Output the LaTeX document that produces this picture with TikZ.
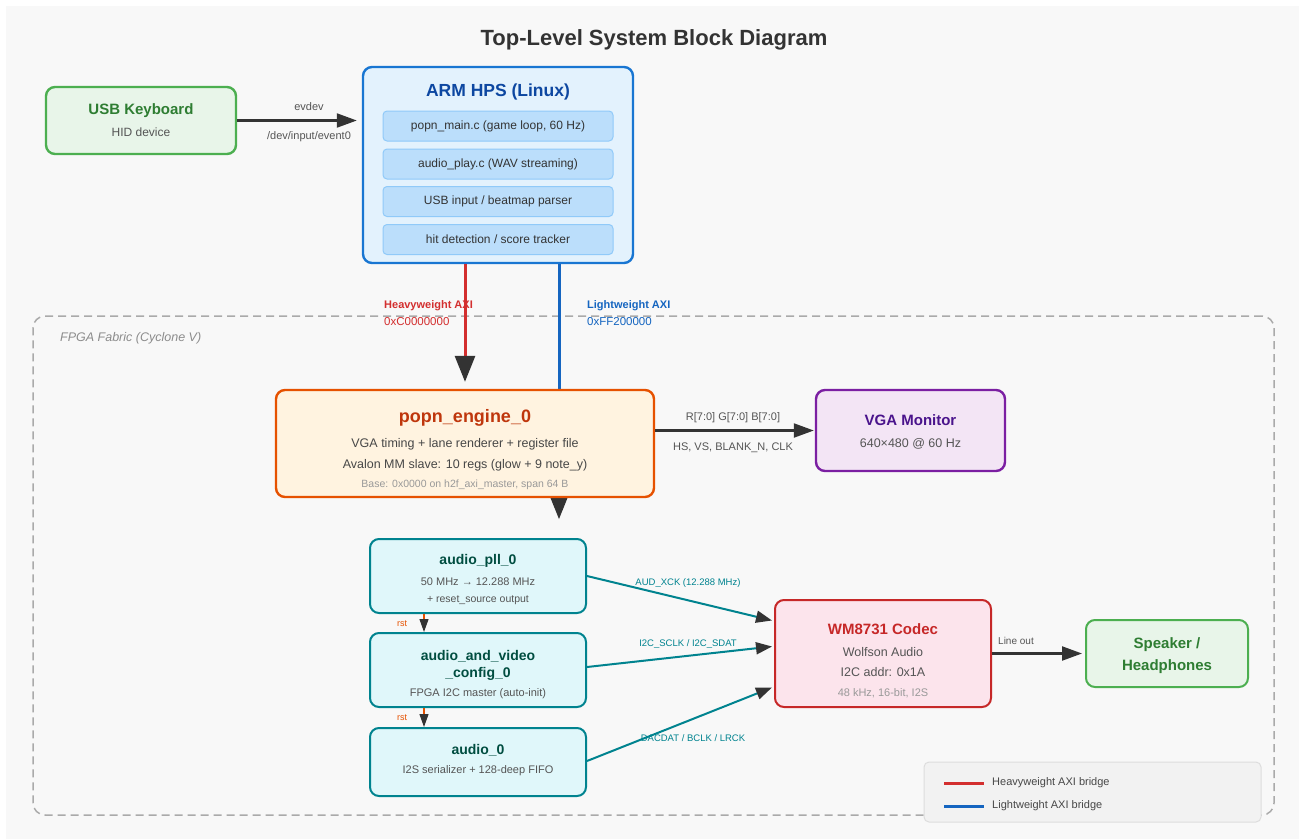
\documentclass[tikz,border=0pt]{standalone}
\usepackage{fontspec}
\setmainfont{Liberation Sans}
\usetikzlibrary{arrows.meta,calc}

\definecolor{bgcol}{HTML}{F8F8F8}
\definecolor{ink}{HTML}{333333}
\definecolor{txtgray}{HTML}{555555}
\definecolor{lightgray}{HTML}{999999}
\definecolor{kbdF}{HTML}{E8F5E9}
\definecolor{kbdB}{HTML}{4CAF50}
\definecolor{kbdT}{HTML}{2E7D32}
\definecolor{hpsF}{HTML}{E3F2FD}
\definecolor{hpsB}{HTML}{1976D2}
\definecolor{hpsT}{HTML}{0D47A1}
\definecolor{subF}{HTML}{BBDEFB}
\definecolor{subB}{HTML}{90CAF9}
\definecolor{engF}{HTML}{FFF3E0}
\definecolor{engB}{HTML}{E65100}
\definecolor{engT}{HTML}{BF360C}
\definecolor{vgaF}{HTML}{F3E5F5}
\definecolor{vgaB}{HTML}{7B1FA2}
\definecolor{vgaT}{HTML}{4A148C}
\definecolor{audF}{HTML}{E0F7FA}
\definecolor{audB}{HTML}{00838F}
\definecolor{audT}{HTML}{004D40}
\definecolor{codF}{HTML}{FCE4EC}
\definecolor{codB}{HTML}{C62828}
\definecolor{hwred}{HTML}{D32F2F}
\definecolor{lwblue}{HTML}{1565C0}
\definecolor{framegray}{HTML}{AAAAAA}
\definecolor{legF}{HTML}{F2F2F2}
\definecolor{legB}{HTML}{DDDDDD}

\tikzset{
  box/.style={draw, rounded corners=9pt, inner sep=0pt, line width=2.4pt},
  subbox/.style={draw=subB, fill=subF, rounded corners=4pt, inner sep=0pt, line width=1pt,
    minimum width=230pt, minimum height=30pt, text=ink, font=\fontsize{12}{12}\selectfont},
  lbl/.style 2 args={inner sep=0pt, text=#2, font=\fontsize{#1}{#1}\selectfont},
  blbl/.style 2 args={inner sep=0pt, text=#2, font=\bfseries\fontsize{#1}{#1}\selectfont},
  bigarrow/.style={draw=ink, line width=2.2pt, -{Triangle[length=20pt,width=14pt,color=ink]}},
  bridge/.style={line width=3pt, -{Triangle[length=26pt,width=20pt,color=ink]}},
  sigarrow/.style={draw=audB, line width=2pt, -{Triangle[length=16pt,width=12pt,color=ink]}},
  rstarrow/.style={draw=engB, line width=1.2pt, -{Triangle[length=13pt,width=9pt,color=ink]}},
}

\begin{document}
\begin{tikzpicture}[x=1pt,y=-1pt]
% canvas
\useasboundingbox (0,0) rectangle (1299,839);
\fill[white] (0,0) rectangle (1299,839);
\fill[bgcol] (6,6) rectangle (1299,839);

\node[blbl={22}{ink}] (title) at (654,40) {Top-Level System Block Diagram};

% FPGA fabric region
\node[draw=framegray, line width=1.5pt, dash pattern=on 8pt off 5pt, rounded corners=12pt,
      minimum width=1241pt, minimum height=499pt, inner sep=0pt] (fpga) at (653.5,565.5) {};
\node[lbl={12.5}{gray!90}, font=\itshape\fontsize{12.5}{12.5}\selectfont, anchor=west] (fpgalbl) at (60,338) {FPGA Fabric (Cyclone V)};

% bridge columns
\coordinate (hwx) at (465,0);
\coordinate (lwx) at (559,0);
\coordinate (rstx) at (424,0);

% ---------- boxes ----------
\node[box, draw=kbdB, fill=kbdF, minimum width=190pt, minimum height=67pt] (kbd) at (141,120.5) {};
\node[box, draw=hpsB, fill=hpsF, minimum width=270pt, minimum height=196pt] (hps) at (498,165) {};

% lightweight bridge runs behind the engine box
\draw[bridge, draw=lwblue] (hps.south -| lwx) -- ($(hps.south -| lwx)+(0,255)$);

\node[box, draw=engB, fill=engF, minimum width=378pt, minimum height=107pt] (popn) at (465,443.5) {};
\node[box, draw=vgaB, fill=vgaF, minimum width=189pt, minimum height=81pt] (vga) at (910.5,430.5) {};
\node[box, draw=audB, fill=audF, line width=2pt, minimum width=216pt, minimum height=74pt] (pll) at (478,576) {};
\node[box, draw=audB, fill=audF, line width=2pt, minimum width=216pt, minimum height=74pt] (avcfg) at (478,670) {};
\node[box, draw=audB, fill=audF, line width=2pt, minimum width=216pt, minimum height=68pt] (aud) at (478,762) {};
\node[box, draw=codB, fill=codF, line width=2pt, minimum width=216pt, minimum height=107pt] (codec) at (883,653.5) {};
\node[box, draw=kbdB, fill=kbdF, line width=2pt, minimum width=162pt, minimum height=67pt] (spk) at (1167,653.5) {};

% ---------- box texts ----------
\node[blbl={15}{kbdT}] (kbdt) at (141,111) {USB Keyboard};
\node[lbl={12}{txtgray}] (kbds) at (141,132) {HID device};

\node[blbl={17.5}{hpsT}] (hpst) at (498,92) {ARM HPS (Linux)};
\node[subbox] (s1) at (498,126) {popn\_main.c (game loop, 60 Hz)};
\node[subbox] (s2) at (498,164) {audio\_play.c (WAV streaming)};
\node[subbox] (s3) at (498,201.5) {USB input / beatmap parser};
\node[subbox] (s4) at (498,239.5) {hit detection / score tracker};

\node[blbl={18}{engT}] (popnt) at (465,418) {popn\_engine\_0};
\node[lbl={12.5}{ink!90}] (popn1) at (465,444) {VGA timing + lane renderer + register file};
\node[lbl={12.5}{ink!90}] (popn2) at (465,465) {Avalon MM slave: 10 regs (glow + 9 note\_y)};
\node[lbl={10.5}{lightgray}] (popn3) at (465,485) {Base: 0x0000 on h2f\_axi\_master, span 64 B};

\node[blbl={15}{vgaT}] (vgat) at (910.5,420) {VGA Monitor};
\node[lbl={12.5}{txtgray}] (vgas) at (910.5,444) {640×480 @ 60 Hz};

\node[blbl={14}{audT}] (pllt) at (478,561) {audio\_pll\_0};
\node[lbl={11}{txtgray}] (pll1) at (478,582) {50 MHz → 12.288 MHz};
\node[lbl={10.5}{txtgray}] (pll2) at (478,600) {+ reset\_source output};

\node[blbl={14}{audT}] (avt1) at (478,656) {audio\_and\_video};
\node[blbl={14}{audT}] (avt2) at (478,674) {\_config\_0};
\node[lbl={11}{txtgray}] (avs) at (478,694) {FPGA I2C master (auto-init)};

\node[blbl={14}{audT}] (audt) at (478,750) {audio\_0};
\node[lbl={11}{txtgray}] (auds) at (478,771) {I2S serializer + 128-deep FIFO};

\node[blbl={15}{codB}] (codt) at (883,629) {WM8731 Codec};
\node[lbl={12.5}{txtgray}] (cod1) at (883,652) {Wolfson Audio};
\node[lbl={12.5}{txtgray}] (cod2) at (883,672) {I2C addr: 0x1A};
\node[lbl={11}{lightgray}] (cod3) at (883,693) {48 kHz, 16-bit, I2S};

\node[blbl={15}{kbdT}] (spk1) at (1167,645) {Speaker /};
\node[blbl={15}{kbdT}] (spk2) at (1167,667) {Headphones};

% ---------- connectors ----------
\draw[bigarrow, shorten >=5pt] (kbd.east) -- (kbd.east -| hps.west);
\node[lbl={11}{txtgray}] (evdev) at (309,107) {evdev};
\node[lbl={11}{txtgray}] (evpath) at (309,137) {/dev/input/event0};

\draw[bridge, draw=hwred, shorten >=7pt] (hps.south -| hwx) -- (popn.north -| hwx);
\node[blbl={11}{hwred}, anchor=west] (hwl1) at (384,306) {Heavyweight AXI};
\node[lbl={11.5}{hwred}, anchor=west] (hwl2) at (384,322) {0xC0000000};
\node[blbl={11}{lwblue}, anchor=west] (lwl1) at (587,306) {Lightweight AXI};
\node[lbl={11.5}{lwblue}, anchor=west] (lwl2) at (587,322) {0xFF200000};

\draw[bigarrow, shorten >=1pt] (popn.east |- vga.west) -- (vga.west);
\node[lbl={11}{txtgray}] (rgb) at (733,418) {R[7:0] G[7:0] B[7:0]};
\node[lbl={11}{txtgray}] (sync) at (733,448) {HS, VS, BLANK\_N, CLK};

\draw[rstarrow] (pll.south -| rstx) -- (avcfg.north -| rstx);
\draw[rstarrow] (avcfg.south -| rstx) -- (aud.north -| rstx);
\node[lbl={9}{engB}] (rst1) at (402,624) {rst};
\node[lbl={9}{engB}] (rst2) at (402,718) {rst};

\draw[sigarrow] (pll.east) -- ($(codec.west)+(-2,-33)$);
\draw[sigarrow] ($(avcfg.east)+(0,-3)$) -- ($(codec.west)+(-2,-7)$);
\draw[sigarrow] ($(aud.east)+(0,-1)$) -- ($(codec.west)+(-2,34)$);
\node[lbl={9.5}{audB}] (xck) at (688,583) {AUD\_XCK (12.288 MHz)};
\node[lbl={9.5}{audB}] (i2c) at (688,644) {I2C\_SCLK / I2C\_SDAT};
\node[lbl={9.5}{audB}] (i2s) at (693,738) {DACDAT / BCLK / LRCK};

\draw[bigarrow, shorten >=3pt] (codec.east) -- (spk.west);
\node[lbl={10}{txtgray}] (lineout) at (1016,641) {Line out};

% ---------- legend ----------
\node[draw=legB, fill=legF, line width=1pt, rounded corners=5pt, inner sep=0pt,
      minimum width=337pt, minimum height=60pt] (legend) at (1092.5,792) {};
\draw[hwred, line width=3pt] (944,783) -- (984,783);
\draw[lwblue, line width=3pt] (944,806) -- (984,806);
\node[lbl={11}{ink!90}, anchor=west] (leg1) at (992,783) {Heavyweight AXI bridge};
\node[lbl={11}{ink!90}, anchor=west] (leg2) at (992,806) {Lightweight AXI bridge};
\end{tikzpicture}
\end{document}
